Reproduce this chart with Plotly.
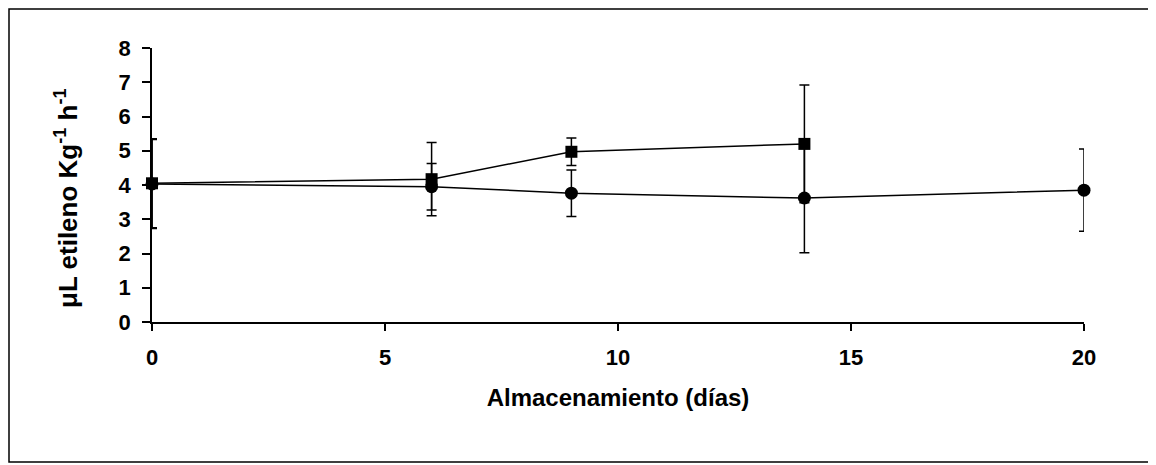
import plotly.graph_objects as go

# Data
dias_circ = [0, 6, 9, 14, 20]
etileno_circ = [4.03, 3.95, 3.76, 3.62, 3.85]
err_circ = [1.30, 0.68, 0.68, 1.60, 1.20]

dias_sq = [0, 6, 9, 14]
etileno_sq = [4.05, 4.17, 4.97, 5.20]
err_sq = [1.30, 1.07, 0.40, 1.72]

x_ticks = [0, 5, 10, 15, 20]
y_ticks = [0, 1, 2, 3, 4, 5, 6, 7, 8]

FONT = "Liberation Sans, Arial, sans-serif"

# Page body has an 8px margin, so the figure is sized/offset accordingly
W, H = 1143, 455
L, T = 144, 40
PW, PH = 932, 274
R = W - L - PW
B = H - T - PH

fig = go.Figure()
fig.add_trace(go.Scatter(
    x=dias_circ, y=etileno_circ, mode="lines+markers",
    line=dict(color="black", width=1.5),
    marker=dict(symbol="circle", size=13, color="black"),
    error_y=dict(type="data", array=err_circ, visible=True,
                 color="black", thickness=1.5, width=5),
    showlegend=False, cliponaxis=False,
))
fig.add_trace(go.Scatter(
    x=dias_sq, y=etileno_sq, mode="lines+markers",
    line=dict(color="black", width=1.5),
    marker=dict(symbol="square", size=12, color="black"),
    error_y=dict(type="data", array=err_sq, visible=True,
                 color="black", thickness=1.5, width=5),
    showlegend=False, cliponaxis=False,
))

fig.update_layout(
    width=W, height=H,
    margin=dict(l=L, r=R, t=T, b=B, autoexpand=False),
    paper_bgcolor="white", plot_bgcolor="white",
    font=dict(family=FONT, color="black"),
    xaxis=dict(
        range=[0, 20], tickvals=x_ticks, ticktext=[f"<b>{v}</b>" for v in x_ticks],
        showline=True, linecolor="black", linewidth=1.5,
        ticks="outside", ticklen=7, tickwidth=1.5, tickcolor="black",
        showgrid=False, zeroline=False,
        tickfont=dict(size=22, family=FONT), ticklabelstandoff=8,
        title=dict(text="<b>Almacenamiento (días)</b>", font=dict(size=24, family=FONT), standoff=20),
    ),
    yaxis=dict(
        range=[0, 8], tickvals=y_ticks, ticktext=[f"<b>{v}</b>" for v in y_ticks],
        showline=True, linecolor="black", linewidth=1.5,
        ticks="outside", ticklen=8, tickwidth=1.5, tickcolor="black",
        showgrid=False, zeroline=False,
        tickfont=dict(size=22, family=FONT), ticklabelstandoff=7,
    ),
    annotations=[dict(
        text="<b>μL etileno Kg<sup>-1</sup> h<sup>-1</sup></b>",
        xref="paper", yref="paper",
        x=(58 - L) / PW, y=(T + PH - 190) / PH,
        xanchor="center", yanchor="middle", textangle=-90, showarrow=False,
        font=dict(size=26, family=FONT, color="black"),
    )],
    shapes=[dict(type="rect", xref="paper", yref="paper",
                 x0=(1 - L) / PW, x1=(W - 1 - L) / PW,
                 y0=(T + PH - (H - 1)) / PH, y1=(T + PH - 1) / PH,
                 line=dict(color="black", width=1.5), fillcolor="rgba(0,0,0,0)",
                 layer="below")],
)

fig.write_html("out.html")
